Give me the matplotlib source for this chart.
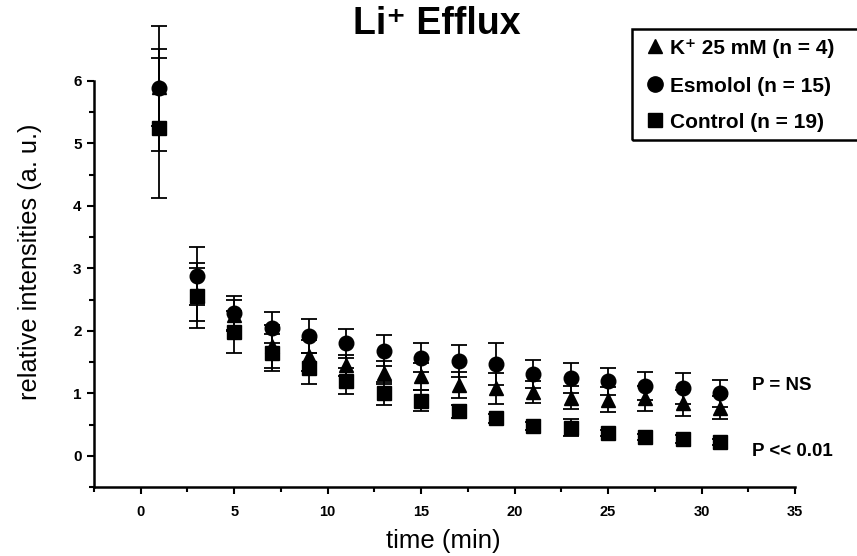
import matplotlib
matplotlib.use("Agg")
import matplotlib.pyplot as plt
from matplotlib.lines import Line2D
from matplotlib.patches import Rectangle
from matplotlib.ticker import MultipleLocator

plt.rcParams['font.family'] = ['Liberation Sans', 'DejaVu Sans']

# time points (min)
time_min = [1, 3, 5, 7, 9, 11, 13, 15, 17, 19, 21, 23, 25, 27, 29, 31]

# K+ 25 mM
k_mean = [5.90, 2.58, 2.25, 1.75, 1.60, 1.45, 1.33, 1.27, 1.13, 1.08, 1.02, 0.93, 0.90, 0.92, 0.85, 0.77]
k_err = [0.62, 0.42, 0.25, 0.34, 0.25, 0.17, 0.18, 0.21, 0.21, 0.25, 0.18, 0.18, 0.20, 0.20, 0.21, 0.18]

# Esmolol
esm_mean = [5.88, 2.88, 2.28, 2.05, 1.92, 1.80, 1.68, 1.57, 1.52, 1.47, 1.31, 1.25, 1.19, 1.12, 1.08, 1.00]
esm_err = [1.00, 0.46, 0.27, 0.25, 0.27, 0.23, 0.25, 0.23, 0.26, 0.33, 0.23, 0.24, 0.22, 0.22, 0.25, 0.22]

# Control
ctl_mean = [5.25, 2.56, 1.98, 1.65, 1.40, 1.20, 1.00, 0.88, 0.71, 0.60, 0.48, 0.45, 0.36, 0.30, 0.27, 0.22]
ctl_err = [1.12, 0.52, 0.34, 0.30, 0.25, 0.21, 0.18, 0.17, 0.10, 0.07, 0.06, 0.14, 0.05, 0.05, 0.06, 0.05]

legend_labels = ["K\u207a 25 mM (n = 4)", "Esmolol (n = 15)", "Control (n = 19)"]

W, H = 857, 556
fig = plt.figure(figsize=(W / 100, H / 100), dpi=100)
ax = fig.add_axes([94 / W, 1 - 487 / H, (795 - 94) / W, (487 - 81) / H])

common = dict(color='black', ecolor='black', elinewidth=1.3, capsize=5.5,
              capthick=1.3, linestyle='none', clip_on=False)
for mean, err, mk, ms in [(ctl_mean, ctl_err, 's', 9.5),
                          (esm_mean, esm_err, 'o', 10.5),
                          (k_mean, k_err, '^', 10.5)]:
    cont = ax.errorbar(time_min, mean, yerr=err, marker=mk, markersize=ms, **common)
    for artist in cont.get_children():
        artist.set_clip_on(False)

ax.set_xlim(-2.5, 35)
ax.set_ylim(-0.5, 6)
ax.spines['top'].set_visible(False)
ax.spines['right'].set_visible(False)
for s in ('left', 'bottom'):
    ax.spines[s].set_linewidth(1.8)

ax.xaxis.set_major_locator(MultipleLocator(5))
ax.xaxis.set_minor_locator(MultipleLocator(2.5))
ax.yaxis.set_major_locator(MultipleLocator(1))
ax.yaxis.set_minor_locator(MultipleLocator(0.5))
ax.tick_params(which='major', direction='out', length=5, width=1.5)
ax.tick_params(which='minor', direction='out', length=3.5, width=1.5)
ax.tick_params(axis='x', which='major', labelsize=10.5, pad=8)
ax.tick_params(axis='y', which='major', labelsize=11, pad=4)
for lab in ax.get_xticklabels() + ax.get_yticklabels():
    lab.set_fontweight('bold')

# axis titles
fig.text(443 / W, 1 - 541 / H, "time (min)", fontsize=18.5, ha='center', va='center')
fig.text(30 / W, 1 - 262 / H, "relative intensities (a. u.)", fontsize=18.3,
         rotation=90, ha='center', va='center')

fig.text(437 / W, 1 - 24 / H, "Li\u207a Efflux", fontsize=27, fontweight='bold',
         ha='center', va='center')

# significance notes
fig.text(752 / W, 1 - 385 / H, "P = NS", fontsize=13.5, fontweight='bold', va='center')
fig.text(752 / W, 1 - 452 / H, "P << 0.01", fontsize=13.5, fontweight='bold', va='center')

# legend box
fig.patches.append(Rectangle((632 / W, 1 - 140 / H), (870 - 632) / W, (140 - 29) / H,
                             transform=fig.transFigure, fill=False, edgecolor='black',
                             linewidth=1.8, clip_on=False))
rows_y = [48, 86, 122]
for mk, ms, lab, yy in zip(['^', 'o', 's'], [10.5, 11, 9.5], legend_labels, rows_y):
    fig.add_artist(Line2D([655 / W], [1 - (yy - 2) / H], marker=mk, markersize=ms,
                          color='black', linestyle='none', transform=fig.transFigure))
    fig.text(670 / W, 1 - (yy + 1) / H, lab, fontsize=15, fontweight='bold', va='center')

fig.savefig("out.png", dpi=100)
